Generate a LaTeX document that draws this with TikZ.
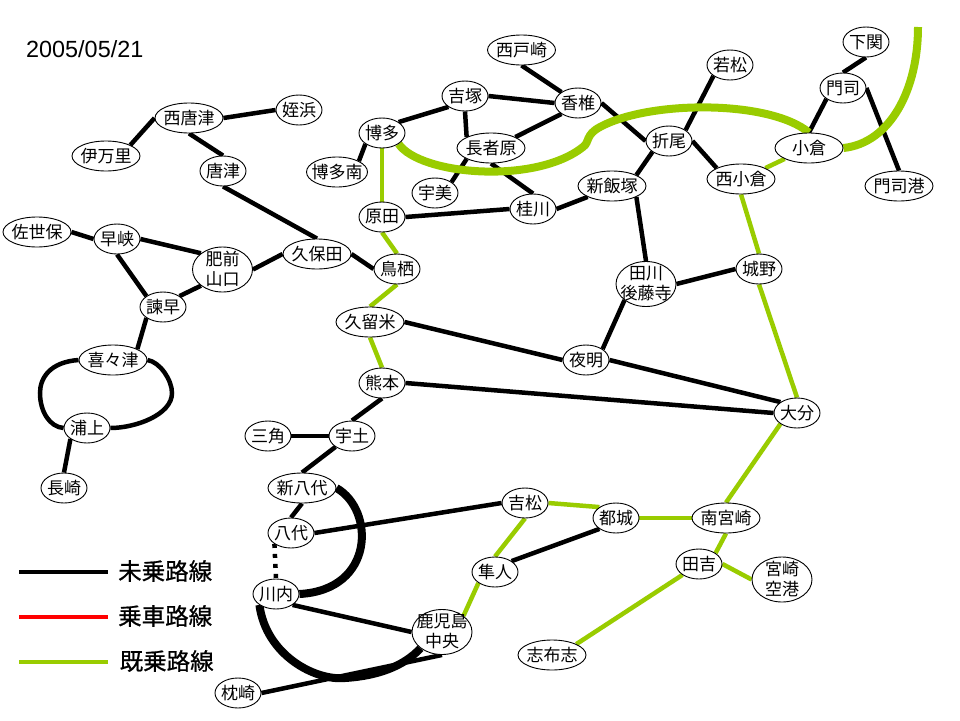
\documentclass[tikz,border=0pt]{standalone}
\usepackage{fontspec}
\setmainfont{Noto Sans CJK JP}
\newfontfamily\latinfont{Liberation Sans}
\newfontfamily\lgfont[FakeBold=0.8]{Noto Sans CJK JP}
\usetikzlibrary{shapes.geometric,backgrounds}
\definecolor{kijo}{HTML}{99CC00}
\newcommand{\one}[1]{\makebox[0pt][c]{#1}}
\newcommand{\twol}[2]{\smash{\makebox[0pt][c]{\raisebox{-0.35em}{\begin{tabular}{@{}c@{}}#1\\#2\end{tabular}}}}}
\tikzset{
  st/.style={ellipse,draw=black,fill=white,line width=0.9pt,inner sep=0pt,minimum width=46pt,minimum height=30pt,font=\fontsize{17}{20}\selectfont},
  wide/.style={st,minimum width=68pt},
  big/.style={st,minimum width=60pt,minimum height=45pt},
  blk/.style={draw=black,line width=4.5pt},
  grn/.style={draw=kijo,line width=4.5pt},
  tblk/.style={draw=black,line width=8pt},
  tgrn/.style={draw=kijo,line width=8pt},
  lgd/.style={line width=4pt},
  lgt/.style={anchor=west,inner sep=0pt,font=\lgfont\fontsize{23.5}{26}\selectfont}
}
\begin{document}
\begin{tikzpicture}[x=1pt,y=-1pt]
\useasboundingbox (0,0) rectangle (960,720);
\node[anchor=base west,inner sep=0pt,font=\latinfont\fontsize{23.4}{26}\selectfont] (date) at (26,57) {2005/05/21};
% stations
\node[wide] (seto) at (521.5,50) {\one{西戸崎}};
\node[st] (yoshizuka) at (465,96) {\one{吉塚}};
\node[st] (kashii) at (578,103) {\one{香椎}};
\node[st] (hakata) at (382,133) {\one{博多}};
\node[wide] (chojabaru) at (491,148) {\one{長者原}};
\node[st] (umi) at (435,193) {\one{宇美}};
\node[st] (keisen) at (533,209) {\one{桂川}};
\node[wide] (iizuka) at (612,186) {\one{新飯塚}};
\node[st] (harada) at (382,217) {\one{原田}};
\node[wide,minimum width=61pt] (hakataminami) at (337,172) {\one{博多南}};
\node[st] (orio) at (669,141) {\one{折尾}};
\node[st] (wakamatsu) at (730,65) {\one{若松}};
\node[wide] (nishikokura) at (741,179) {\one{西小倉}};
\node[wide] (kokura) at (809,148) {\one{小倉}};
\node[st] (moji) at (843,88) {\one{門司}};
\node[st] (shimonoseki) at (866,42) {\one{下関}};
\node[wide] (mojiko) at (899,186) {\one{門司港}};
\node[wide] (nishikaratsu) at (189,118) {\one{西唐津}};
\node[st] (meinohama) at (299,110) {\one{姪浜}};
\node[wide] (imari) at (106,156) {\one{伊万里}};
\node[st] (karatsu) at (223,171) {\one{唐津}};
\node[wide] (sasebo) at (37,232) {\one{佐世保}};
\node[st] (haiki) at (117,239) {\one{早峡}};
\node[big] (hizen) at (222.5,269.5) {\twol{肥前}{山口}};
\node[wide] (kubota) at (317,254) {\one{久保田}};
\node[st] (tosu) at (397,269) {\one{鳥栖}};
\node[st] (isahaya) at (163,307) {\one{諫早}};
\node[wide] (kikitsu) at (113,360) {\one{喜々津}};
\node[st] (urakami) at (87,428) {\one{浦上}};
\node[st] (nagasaki) at (64,488) {\one{長崎}};
\node[wide] (kurume) at (370,322) {\one{久留米}};
\node[st] (kumamoto) at (382,383) {\one{熊本}};
\node[st] (yoake) at (586,360) {\one{夜明}};
\node[big] (tagawa) at (646,284) {\twol{田川}{後藤寺}};
\node[st] (jono) at (759,269) {\one{城野}};
\node[st] (oita) at (797,413) {\one{大分}};
\node[st] (uto) at (352,436) {\one{宇土}};
\node[st] (misumi) at (268,436) {\one{三角}};
\node[wide] (shinyatsushiro) at (302,488) {\one{新八代}};
\node[st] (yatsushiro) at (291,533) {\one{八代}};
\node[st] (yoshimatsu) at (525,503) {\one{吉松}};
\node[st] (miyakonojo) at (616,518) {\one{都城}};
\node[wide] (minamimiyazaki) at (726,518) {\one{南宮崎}};
\node[st] (hayato) at (495,572) {\one{隼人}};
\node[st] (tayoshi) at (699,564) {\one{田吉}};
\node[big] (kuko) at (782,579.5) {\twol{宮崎}{空港}};
\node[st] (sendai) at (276,594) {\one{川内}};
\node[big] (kagoshima) at (442,632) {\twol{鹿児島}{中央}};
\node[wide] (shibushi) at (552,655) {\one{志布志}};
\node[st] (makurazaki) at (238,693) {\one{枕崎}};
\begin{scope}[on background layer]
% black lines
\draw[blk] (seto.south) -- (kashii.north west);
\draw[blk] (yoshizuka.east) -- (kashii.west);
\draw[blk] (kashii.south west) -- (chojabaru.north east);
\draw[blk] (kashii.east) -- (orio.west);
\draw[blk] (yoshizuka.south) -- (chojabaru.north west);
\draw[blk] (yoshizuka.south west) -- (hakata.north east);
\draw[blk] (hakata.south west) -- (hakataminami.north east);
\draw[blk] (chojabaru.south west) -- (umi.north east);
\draw[blk] (chojabaru.south) -- (keisen.north);
\draw[blk] (harada.east) -- (keisen.west);
\draw[blk] (keisen.east) -- (iizuka.south west);
\draw[blk] (iizuka.north east) -- (orio.south west);
\draw[blk] (iizuka.south east) -- (tagawa.north);
\draw[blk] (orio.north east) -- (wakamatsu.south west);
\draw[blk] (orio.east) -- (nishikokura.north west);
\draw[blk] (kokura.north) -- (moji.south west);
\draw[blk] (moji.north) -- (shimonoseki.south);
\draw[blk] (moji.east) -- (mojiko.north);
\draw[blk] (jono.west) -- (tagawa.east);
\draw[blk] (tagawa.south west) -- (yoake.north east);
\draw[blk] (yoake.east) -- (oita.north west);
\draw[blk] (yoake.west) -- (kurume.east);
\draw[blk] (kumamoto.east) -- (oita.west);
\draw[blk] (kubota.east) -- (tosu.west);
\draw[blk] (kubota.west) -- (hizen.east);
\draw[blk] (karatsu.south) -- (kubota.north);
\draw[blk] (nishikaratsu.south) -- (karatsu.north);
\draw[blk] (nishikaratsu.east) -- (meinohama.west);
\draw[blk] (nishikaratsu.west) -- (imari.north east);
\draw[blk] (sasebo.east) -- (haiki.west);
\draw[blk] (haiki.east) -- (hizen.north west);
\draw[blk] (haiki.south) -- (isahaya.north west);
\draw[blk] (isahaya.north east) -- (hizen.south west);
\draw[blk] (isahaya.south west) -- (kikitsu.north east);
\draw[blk] (urakami.south west) -- (nagasaki.north);
\draw[blk] (kumamoto.south) -- (uto.north);
\draw[blk] (uto.west) -- (misumi.east);
\draw[blk] (uto.south west) -- (shinyatsushiro.north);
\draw[blk] (shinyatsushiro.south) -- (yatsushiro.north);
\draw[blk] (yatsushiro.east) -- (yoshimatsu.west);
\draw[blk,dash pattern=on 4pt off 6pt] (yatsushiro.south west) -- (sendai.north);
\draw[blk] (sendai.south east) -- (kagoshima.west);
\draw[blk] (makurazaki.east) -- (kagoshima.south);
\draw[blk] (hayato.north east) -- (miyakonojo.south west);
% curved black lines
\draw[blk] (kikitsu.west) .. controls (50,362) and (40,378) .. (40,393) .. controls (40,412) and (50,427) .. (urakami.west);
\draw[blk] (kikitsu.east) .. controls (160,362) and (172,380) .. (172,393) .. controls (172,415) and (135,428) .. (urakami.east);
\draw[tblk] (shinyatsushiro.east) .. controls (375,510) and (375,590) .. (sendai.east);
\draw[tblk] (sendai.south west) .. controls (266,655) and (315,681) .. (345,678) .. controls (378,676) and (404,666) .. (kagoshima.south west);
% green lines
\draw[grn] (hakata.south) -- (harada.north);
\draw[grn] (harada.south) -- (tosu.north);
\draw[grn] (tosu.south) -- (kurume.north);
\draw[grn] (kurume.south) -- (kumamoto.north);
\draw[grn] (kokura.south west) -- (nishikokura.north east);
\draw[grn] (nishikokura.south) -- (jono.north);
\draw[grn] (jono.south) -- (oita.north);
\draw[grn] (oita.south west) -- (minamimiyazaki.north);
\draw[grn] (minamimiyazaki.west) -- (miyakonojo.east);
\draw[grn] (miyakonojo.north west) -- (yoshimatsu.east);
\draw[grn] (yoshimatsu.south) -- (hayato.north);
\draw[grn] (hayato.south west) -- (kagoshima.north east);
\draw[grn] (minamimiyazaki.south) -- (tayoshi.north east);
\draw[grn] (tayoshi.east) -- (kuko.west);
\draw[grn] (tayoshi.south west) -- (shibushi.north east);
\coordinate (free) at (918,27);
\draw[tgrn] (hakata.south east) .. controls (420,175) and (535,185) .. (583,147) .. controls (590,142) and (585,135) .. (600,127) .. controls (650,100) and (770,100) .. (kokura.north);
\draw[tgrn] (kokura.east) .. controls (890,143) and (918,90) .. (free);
\end{scope}
% legend
\coordinate (la) at (19,572); \coordinate (lb) at (108,572);
\coordinate (lc) at (19,617); \coordinate (ld) at (108,617);
\coordinate (le) at (19,662); \coordinate (lf) at (108,662);
\draw[lgd,black] (la) -- (lb);
\draw[lgd,red] (lc) -- (ld);
\draw[lgd,kijo] (le) -- (lf);
\node[lgt] (t1) at (118,571) {未乗路線};
\node[lgt] (t2) at (118,616) {乗車路線};
\node[lgt] (t3) at (119.5,661) {既乗路線};
\end{tikzpicture}
\end{document}
